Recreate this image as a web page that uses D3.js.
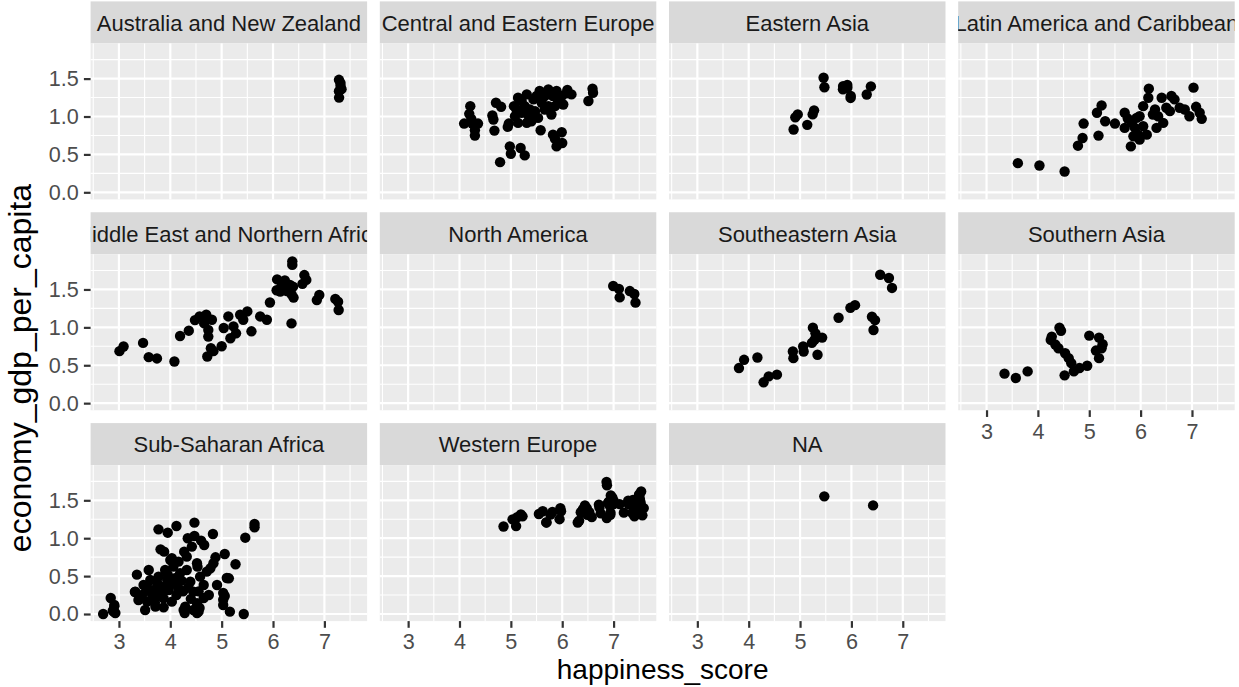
<!DOCTYPE html>
<html>
<head>
<meta charset="utf-8">
<script src="https://cdn.jsdelivr.net/npm/d3@7"></script>
<style>
  body { margin: 0; background: #ffffff; }
  svg { display: block; }
  text { font-family: "Liberation Sans", Arial, Helvetica, sans-serif; }
</style>
</head>
<body>
<svg id="chart" width="1239" height="687"></svg>
<script>
// Facet labels, in panel order (left to right, top to bottom)
const regionNames = [
  "Australia and New Zealand", "Central and Eastern Europe", "Eastern Asia",
  "Latin America and Caribbean", "Middle East and Northern Africa", "North America",
  "Southeastern Asia", "Southern Asia", "Sub-Saharan Africa", "Western Europe", "NA"
];

// [happiness_score, economy_gdp_per_capita] per region
const ausNz = [
  [7.284, 1.334], [7.286, 1.250], [7.313, 1.444], [7.334, 1.361], [7.284, 1.484], [7.314, 1.406]
];
const centralEasternEurope = [
  [4.21, 1.137], [4.19, 1.035], [4.09, 0.907], [4.25, 0.907], [4.36, 0.907], [4.30, 0.819],
  [4.30, 0.748], [4.23, 0.969], [4.64, 1.013], [4.66, 0.960], [4.71, 1.181], [4.81, 1.128],
  [4.68, 0.814], [4.79, 0.398], [4.98, 0.606], [5.00, 0.509], [5.19, 0.584], [5.27, 0.487],
  [4.94, 0.863], [4.96, 0.907], [5.58, 0.819], [5.82, 0.761], [5.86, 0.704], [5.99, 0.792],
  [6.00, 0.650], [5.89, 0.606], [6.51, 1.204], [6.59, 1.367], [6.60, 1.314], [5.11, 1.093],
  [5.08, 1.004], [5.14, 1.248], [5.21, 1.049], [5.14, 0.916], [5.31, 1.292], [5.27, 1.137],
  [5.35, 1.004], [5.40, 0.938], [5.44, 1.226], [5.47, 1.071], [5.53, 0.982], [5.56, 1.336],
  [5.60, 1.181], [5.66, 1.270], [5.73, 1.358], [5.73, 1.137], [5.79, 1.027], [5.82, 1.270],
  [5.89, 1.336], [5.92, 1.204], [5.99, 1.270], [6.02, 1.159], [6.08, 1.305], [6.10, 1.350],
  [6.18, 1.292], [5.21, 1.204], [5.37, 1.093], [5.66, 1.093], [5.31, 0.916], [5.50, 1.270],
  [5.86, 1.137], [5.06, 1.137]
];
const easternAsia = [
  [4.874, 0.828], [4.907, 0.989], [4.955, 1.028], [5.140, 0.890], [5.245, 1.028], [5.273, 1.081],
  [5.474, 1.386], [5.458, 1.511], [5.987, 1.271], [5.984, 1.245], [5.921, 1.380], [5.835, 1.359],
  [5.920, 1.417], [5.838, 1.401], [6.298, 1.291], [6.379, 1.397]
];
const latinAmerica = [
  [3.61, 0.385], [4.03, 0.354], [4.52, 0.274], [4.78, 0.615], [4.87, 0.717], [4.89, 0.907],
  [5.18, 0.748], [5.15, 1.049], [5.24, 1.146], [5.31, 0.938], [5.50, 0.907], [5.69, 1.049],
  [5.75, 0.973], [5.69, 0.850], [5.81, 0.606], [5.86, 0.739], [5.95, 0.761], [5.89, 0.850],
  [5.98, 1.004], [6.05, 0.872], [6.12, 0.761], [6.05, 1.137], [6.16, 1.367], [6.15, 1.248],
  [6.24, 1.027], [6.31, 0.850], [6.44, 0.916], [6.41, 1.248], [6.50, 1.115], [6.60, 1.270],
  [6.66, 1.226], [6.57, 1.071], [6.76, 1.115], [6.86, 1.093], [6.95, 1.004], [7.03, 1.381],
  [7.08, 1.128], [7.19, 0.969], [7.15, 1.049], [5.92, 0.982], [5.98, 0.695], [6.28, 1.093],
  [5.83, 0.916], [6.34, 1.004]
];
const middleEastNorthAfrica = [
  [3.01, 0.686], [3.09, 0.747], [3.47, 0.795], [3.58, 0.607], [3.74, 0.590], [4.08, 0.550],
  [4.19, 0.886], [4.36, 0.956], [4.48, 1.096], [4.57, 1.144], [4.66, 1.052], [4.70, 1.166],
  [4.74, 0.965], [4.74, 0.878], [4.79, 0.725], [4.72, 0.616], [4.81, 1.100], [5.04, 0.991],
  [5.00, 0.751], [5.13, 1.144], [5.17, 0.856], [5.23, 1.013], [5.28, 0.921], [5.36, 1.166],
  [5.50, 1.210], [5.42, 1.100], [5.58, 0.948], [5.75, 1.144], [5.88, 1.100], [5.94, 1.328],
  [6.07, 1.489], [6.08, 1.633], [6.23, 1.620], [6.27, 1.480], [6.36, 1.437], [6.375, 1.871],
  [6.375, 1.824], [6.40, 1.393], [6.36, 1.052], [6.33, 1.559], [6.61, 1.690], [6.648, 1.626],
  [6.573, 1.574], [6.853, 1.360], [6.901, 1.427], [7.213, 1.375], [7.278, 1.229], [7.267, 1.338],
  [6.17, 1.559], [4.84, 0.686], [6.39, 1.537], [6.14, 1.472]
];
const northAmerica = [
  [7.427, 1.326], [7.119, 1.395], [7.404, 1.440], [7.104, 1.508], [7.316, 1.479], [6.993, 1.546]
];
const southeasternAsia = [
  [3.81, 0.463], [3.91, 0.572], [4.17, 0.603], [4.29, 0.275], [4.39, 0.354], [4.55, 0.376],
  [4.86, 0.681], [4.87, 0.594], [5.06, 0.747], [5.07, 0.681], [5.25, 0.996], [5.30, 0.921],
  [5.28, 0.834], [5.43, 0.865], [5.34, 0.638], [5.75, 1.127], [5.98, 1.258], [6.07, 1.293],
  [6.40, 1.140], [6.46, 1.096], [6.43, 0.965], [6.56, 1.694], [6.73, 1.651], [6.79, 1.520],
  [5.23, 0.795]
];
const southernAsia = [
  [3.35, 0.389], [3.57, 0.332], [3.80, 0.419], [4.42, 0.996], [4.45, 0.955], [4.25, 0.834],
  [4.34, 0.773], [4.40, 0.725], [4.53, 0.659], [4.60, 0.594], [4.65, 0.528], [4.52, 0.367],
  [4.70, 0.419], [4.81, 0.463], [4.96, 0.493], [5.00, 0.891], [5.19, 0.865], [5.26, 0.777],
  [5.24, 0.725], [5.13, 0.694], [5.19, 0.594], [4.27, 0.878]
];
const subSaharanAfrica = [
  [2.693, 0.000], [2.84, 0.211], [2.91, 0.101], [2.93, 0.013], [2.88, 0.044], [3.35, 0.519],
  [3.31, 0.290], [3.77, 1.117], [3.95, 1.073], [4.12, 1.161], [4.47, 1.205], [4.83, 1.056],
  [4.34, 0.999], [4.47, 1.029], [4.60, 0.968], [4.66, 0.911], [5.64, 1.188], [5.64, 1.144],
  [5.46, 1.007], [3.81, 0.853], [3.88, 0.823], [4.27, 0.823], [4.03, 0.735], [4.16, 0.691],
  [5.06, 0.792], [4.88, 0.748], [5.27, 0.656], [5.14, 0.471], [4.53, 0.625], [4.78, 0.603],
  [4.91, 0.383], [5.06, 0.238], [5.03, 0.119], [5.16, 0.031], [5.43, 0.000], [2.91, 0.119],
  [2.90, 0.031], [3.32, 0.295], [3.48, 0.383], [3.45, 0.251], [3.55, 0.163], [3.61, 0.449],
  [3.68, 0.317], [3.71, 0.097], [3.77, 0.493], [3.81, 0.361], [3.87, 0.207], [3.90, 0.581],
  [3.94, 0.449], [3.97, 0.317], [4.03, 0.163], [4.06, 0.625], [4.09, 0.471], [4.16, 0.339],
  [4.19, 0.537], [4.29, 0.097], [4.32, 0.581], [4.39, 0.427], [4.45, 0.295], [4.52, 0.141],
  [4.55, 0.031], [4.58, 0.493], [4.65, 0.383], [4.71, 0.559], [4.75, 0.251], [4.26, 0.053],
  [3.58, 0.581], [3.74, 0.229], [4.00, 0.713], [4.32, 0.757], [4.42, 0.889], [4.52, 0.669],
  [4.84, 0.669], [3.87, 0.088], [3.38, 0.185], [3.51, 0.053], [4.45, 0.053], [4.28, 0.013],
  [4.52, 0.013], [4.57, 0.079], [5.03, 0.189], [5.03, 0.277], [5.10, 0.475], [4.55, 0.299],
  [4.65, 0.211], [3.60, 0.300], [3.65, 0.220], [3.75, 0.400], [3.85, 0.280], [3.92, 0.370],
  [3.70, 0.150], [4.05, 0.400], [4.12, 0.250], [4.22, 0.440], [4.35, 0.350], [4.40, 0.200],
  [3.55, 0.350], [3.95, 0.520], [4.25, 0.300]
];
const westernEurope = [
  [7.587, 1.397], [7.561, 1.302], [7.527, 1.325], [7.522, 1.459], [7.378, 1.329], [7.364, 1.332],
  [7.200, 1.337], [6.946, 1.564], [6.940, 1.336], [6.937, 1.308], [6.867, 1.266], [6.750, 1.328],
  [6.575, 1.278], [6.329, 1.230], [6.302, 1.207], [5.948, 1.251], [5.695, 1.208], [5.689, 1.208],
  [7.406, 1.290], [4.857, 1.154], [5.102, 1.160],
  [7.526, 1.442], [7.509, 1.527], [7.501, 1.427], [7.498, 1.577], [7.413, 1.406], [7.339, 1.465],
  [7.291, 1.452], [7.119, 1.450], [6.871, 1.698], [6.907, 1.483], [6.929, 1.425], [6.725, 1.403],
  [6.994, 1.448], [6.478, 1.395], [6.361, 1.343], [6.488, 1.308], [5.977, 1.355], [5.771, 1.311],
  [5.546, 1.319], [5.033, 1.249], [5.123, 1.276],
  [7.537, 1.616], [7.522, 1.482], [7.504, 1.481], [7.494, 1.565], [7.469, 1.444], [7.377, 1.504],
  [7.284, 1.494], [7.006, 1.487], [6.977, 1.536], [6.951, 1.488], [6.891, 1.464], [6.863, 1.742],
  [6.714, 1.443], [6.442, 1.431], [6.403, 1.384], [6.527, 1.343], [5.964, 1.395], [5.810, 1.347],
  [5.621, 1.356], [5.195, 1.315], [5.227, 1.289]
];
const regionMissing = [
  [5.472, 1.552], [6.422, 1.433]
];

const regionPoints = [
  ausNz, centralEasternEurope, easternAsia, latinAmerica, middleEastNorthAfrica, northAmerica,
  southeasternAsia, southernAsia, subSaharanAfrica, westernEurope, regionMissing
];

// Axis breaks
const xTicks = [3, 4, 5, 6, 7];
const xTickLabels = ["3", "4", "5", "6", "7"];
const xMinorTicks = [2.5, 3.5, 4.5, 5.5, 6.5, 7.5];
const yTicks = [0, 0.5, 1, 1.5];
const yTickLabels = ["0.0", "0.5", "1.0", "1.5"];
const yMinorTicks = [0.25, 0.75, 1.25, 1.75];

const xTitle = "happiness_score";
const yTitle = "economy_gdp_per_capita";

// ---- layout ----
const nCols = 4;
const panelLeft = 90.6, panelW = 276.5, colPitch = 289.2;
const stripTop0 = 1.4, stripH = 42, panelH = 156, rowPitch = 210.85;
const pointR = 5.2;
const tickLen = 6.7;
const fontTick = 21.6, fontStrip = 22, fontTitleX = 28, fontTitleY = 32;

// shared scales, with 5% expansion like ggplot's continuous default
const allPts = regionPoints.flat();
function expand(ext) { const d = (ext[1] - ext[0]) * 0.05; return [ext[0] - d, ext[1] + d]; }
const xDomain = expand(d3.extent(allPts, d => d[0]));
const yDomain = expand(d3.extent(allPts, d => d[1]));
const x = d3.scaleLinear().domain(xDomain).range([0, panelW]);
const y = d3.scaleLinear().domain(yDomain).range([stripH + panelH, stripH]);

const svg = d3.select("#chart");
const defs = svg.append("defs");
svg.append("rect").attr("width", 1239).attr("height", 687).attr("fill", "#ffffff");

const nPanels = regionNames.length;
const nRows = Math.ceil(nPanels / nCols);

regionNames.forEach((name, i) => {
  const col = i % nCols, row = Math.floor(i / nCols);
  const g = svg.append("g")
    .attr("transform", `translate(${panelLeft + col * colPitch},${stripTop0 + row * rowPitch})`);

  // strip
  g.append("rect").attr("x", 0).attr("y", 0).attr("width", panelW).attr("height", stripH)
    .attr("fill", "#D9D9D9");
  defs.append("clipPath").attr("id", "strip-clip-" + i)
    .append("rect").attr("x", 0).attr("y", 0).attr("width", panelW).attr("height", stripH);
  g.append("text")
    .attr("clip-path", `url(#strip-clip-${i})`)
    .attr("x", panelW / 2).attr("y", 29.4)
    .attr("text-anchor", "middle")
    .attr("font-size", fontStrip).attr("fill", "#1A1A1A")
    .text(name);

  // panel background and grid
  g.append("rect").attr("x", 0).attr("y", stripH).attr("width", panelW).attr("height", panelH)
    .attr("fill", "#EBEBEB");
  const grid = g.append("g").attr("stroke", "#ffffff").attr("fill", "none");
  grid.selectAll("line.xminor").data(xMinorTicks.filter(v => v > xDomain[0] && v < xDomain[1]))
    .join("line").attr("class", "xminor")
    .attr("x1", d => x(d)).attr("x2", d => x(d)).attr("y1", stripH).attr("y2", stripH + panelH)
    .attr("stroke-width", 1.1);
  grid.selectAll("line.yminor").data(yMinorTicks.filter(v => v > yDomain[0] && v < yDomain[1]))
    .join("line").attr("class", "yminor")
    .attr("y1", d => y(d)).attr("y2", d => y(d)).attr("x1", 0).attr("x2", panelW)
    .attr("stroke-width", 1.1);
  grid.selectAll("line.xmajor").data(xTicks)
    .join("line").attr("class", "xmajor")
    .attr("x1", d => x(d)).attr("x2", d => x(d)).attr("y1", stripH).attr("y2", stripH + panelH)
    .attr("stroke-width", 2.2);
  grid.selectAll("line.ymajor").data(yTicks)
    .join("line").attr("class", "ymajor")
    .attr("y1", d => y(d)).attr("y2", d => y(d)).attr("x1", 0).attr("x2", panelW)
    .attr("stroke-width", 2.2);

  // points
  g.append("g").selectAll("circle").data(regionPoints[i]).join("circle")
    .attr("cx", d => x(d[0])).attr("cy", d => y(d[1])).attr("r", pointR)
    .attr("fill", "#000000");

  // left axis on first column
  if (col === 0) {
    const ax = g.append("g").call(
      d3.axisLeft(y).tickValues(yTicks).tickFormat((d, k) => yTickLabels[k])
        .tickSize(tickLen).tickPadding(5.2));
    styleAxis(ax);
  }
  // bottom axis where no panel sits below
  if (i + nCols >= nPanels) {
    const ax = g.append("g").attr("transform", `translate(0,${stripH + panelH})`).call(
      d3.axisBottom(x).tickValues(xTicks).tickFormat((d, k) => xTickLabels[k])
        .tickSize(tickLen).tickPadding(6.3));
    styleAxis(ax);
  }
});

function styleAxis(ax) {
  ax.select(".domain").remove();
  ax.selectAll(".tick line").attr("stroke", "#333333").attr("stroke-width", 2.2);
  ax.selectAll(".tick text").attr("fill", "#4D4D4D").attr("font-size", fontTick)
    .attr("font-family", "\"Liberation Sans\", Arial, Helvetica, sans-serif");
}

// axis titles
const plotRight = panelLeft + (nCols - 1) * colPitch + panelW;
svg.append("text")
  .attr("x", (panelLeft + plotRight) / 2).attr("y", 679)
  .attr("text-anchor", "middle").attr("font-size", fontTitleX).attr("fill", "#000000")
  .text(xTitle);
svg.append("text")
  .attr("transform", "translate(31,368) rotate(-90)")
  .attr("text-anchor", "middle").attr("font-size", fontTitleY).attr("fill", "#000000")
  .text(yTitle);
</script>
</body>
</html>
